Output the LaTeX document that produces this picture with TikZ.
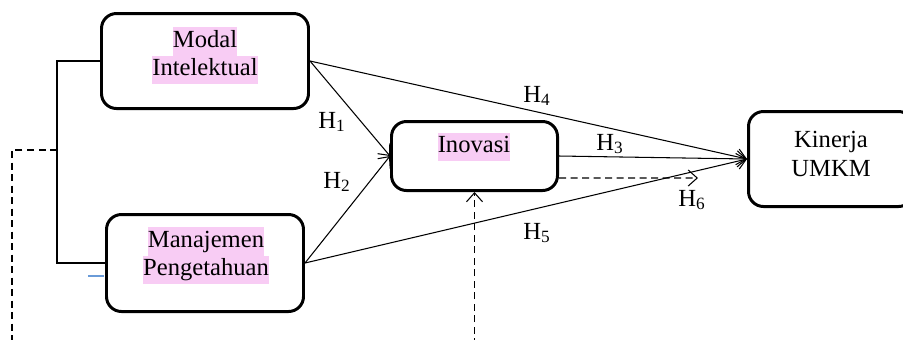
\documentclass[tikz,border=0pt]{standalone}
\usepackage{fontspec}
\setmainfont{Liberation Serif}
\usetikzlibrary{arrows.meta}

\definecolor{hlpink}{HTML}{F8CCF4}
\definecolor{lineblue}{HTML}{6A9BD8}
\newcommand{\hlword}[1]{{\setlength{\fboxsep}{0pt}\colorbox{hlpink}{\strut #1}}}

\begin{document}
\begin{tikzpicture}[x=0.2mm, y=-0.2mm,
    every node/.style={font=\fontsize{14pt}{16pt}\selectfont},
    varbox/.style={draw, line width=1.7pt, rounded corners=3mm, inner sep=0pt},
    txt/.style={align=center, inner sep=0pt},
    path/.style={line width=0.6pt, -{Straight Barb[length=1.8mm, width=3.2mm]}},
    dashpath/.style={path, dash pattern=on 1.4mm off 0.9mm}]

\useasboundingbox (0,0) rectangle (903,339);

% boxes
\node[varbox, minimum width=41.4mm, minimum height=19mm] (MI) at (205,61) {};
\node[varbox, minimum width=39.4mm, minimum height=19.4mm] (MP) at (205,263) {};
\node[varbox, minimum width=33.2mm, minimum height=13.8mm] (INO) at (474.5,156) {};
\node[varbox, minimum width=33mm, minimum height=19mm] (KU) at (831,159) {};

\node[txt] (MItext) at (205,55.5) {\hlword{Modal}\\\hlword{Intelektual}};
\node[txt] (MPtext) at (206,255.5) {\hlword{Manajemen}\\\hlword{Pengetahuan}};
\node[txt] (INOtext) at (474,147) {\hlword{Inovasi}};
\node[txt] (KUtext) at (831,154) {Kinerja\\UMKM};

% bracket and control path
\coordinate (brtop) at (57,61);
\coordinate (brbot) at (57,263);
\coordinate (brmid) at (57,150);
\coordinate (ctrlcorner) at (12,150);
\coordinate (ctrlend) at (12,345);
\draw[line width=0.8pt] (MI.west) -- (brtop) -- (brbot) -- (MP.west);
\draw[line width=0.8pt, dash pattern=on 1.4mm off 0.9mm] (brmid) -- (ctrlcorner) -- (ctrlend);
\coordinate (bluestart) at (88,276);
\coordinate (blueend) at (104,276);
\draw[lineblue, line width=0.6pt] (bluestart) -- (blueend);

% hypotheses
\draw[path] (MI.east) -- (INO.west);
\draw[path] (MP.east) -- (INO.west);
\draw[path] (MI.east) -- (KU.west);
\draw[path] (MP.east) -- (KU.west);
\draw[path] (INO.east) -- (KU.west);

\coordinate (h6end) at (698,178);
\coordinate (modstart) at (474.5,345);
\draw[dashpath] ([yshift=-4.4mm]INO.east) -- (h6end);
\draw[dashpath] (modstart) -- (INO.south);

\node (h1) at (332,122) {H\textsubscript{1}};
\node (h2) at (337,182) {H\textsubscript{2}};
\node (h3) at (610,144) {H\textsubscript{3}};
\node (h4) at (537,96) {H\textsubscript{4}};
\node (h5) at (537,233) {H\textsubscript{5}};
\node (h6) at (692,200) {H\textsubscript{6}};

\end{tikzpicture}
\end{document}
